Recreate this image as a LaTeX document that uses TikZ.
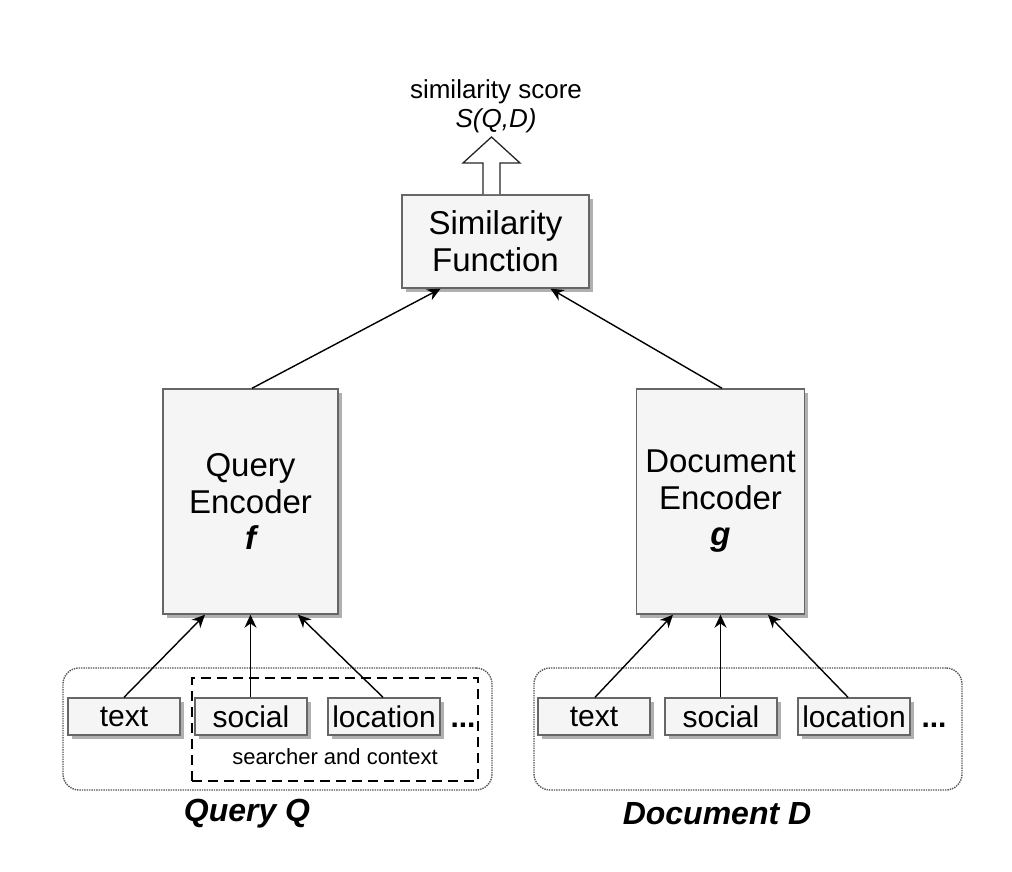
\documentclass[tikz,border=0pt]{standalone}
\usepackage{fontspec}
\setmainfont{Liberation Sans}
\usetikzlibrary{shadows,calc,arrows.meta}
\definecolor{boxfill}{HTML}{F5F5F5}
\definecolor{boxline}{HTML}{666666}
\definecolor{shadowc}{HTML}{B0B0B0}
\definecolor{grpline}{HTML}{555555}
\begin{document}
\begin{tikzpicture}[x=1pt,y=-1pt,
  box/.style={draw=boxline, fill=boxfill, line width=1.4pt, inner sep=0pt, align=center,
    drop shadow={shadow xshift=3.5pt, shadow yshift=-3.5pt, fill=shadowc, opacity=1}},
  bigtxt/.style={font=\fontsize{33}{37}\selectfont},
  smalltxt/.style={font=\fontsize{30}{34}\selectfont},
  grp/.style={draw=grpline, densely dotted, line width=1.4pt, rounded corners=16pt},
  conn/.style={line width=1.4pt, -{Stealth[length=13pt,width=12pt]}},
  lbl/.style={font=\fontsize{32}{36}\selectfont\bfseries\itshape, inner sep=0pt},
  dots/.style={font=\fontsize{30}{34}\selectfont\bfseries, inner sep=0pt, anchor=base}
]
\useasboundingbox (0,0) rectangle (1012,872);

% top labels
\node[font=\fontsize{26}{30}\selectfont, inner sep=0pt] (simscore) at (496,92) {similarity score};
\node[font=\fontsize{26}{30}\selectfont\itshape, inner sep=0pt] (sqd) at (496,121) {S(Q,D)};

% similarity function
\node[box, bigtxt, minimum width=187pt, minimum height=93pt] (sf) at (495.5,241.5) {Similarity\\Function};

% block arrow
\draw[line width=1.3pt, draw=black!85, fill=white]
  (483,194) -- (483,163) -- (463,163) -- (491.5,137) -- (520,163) -- (500,163) -- (500,194);

% encoders
\node[box, bigtxt, minimum width=175pt, minimum height=225pt] (qe) at (250.5,501.5)
  {Query\\Encoder\\[-1pt]{\bfseries\itshape f}};
\node[box, bigtxt, minimum width=168pt, minimum height=225pt] (de) at (720.5,501.5)
  {Document\\Encoder\\[-1pt]{\bfseries\itshape g}};

% groups
\node[grp, minimum width=429pt, minimum height=122pt, inner sep=0pt] (qgrp) at (277.5,729) {};
\node[grp, minimum width=428pt, minimum height=122pt, inner sep=0pt] (dgrp) at (748,729) {};

% dashed searcher/context box
\node[draw=black, dashed, dash pattern=on 10pt off 6pt, line width=2.4pt,
  minimum width=286pt, minimum height=103pt, inner sep=0pt] (ctx) at (335,729.5) {};
\node[font=\fontsize{22}{26}\selectfont, inner sep=0pt] (ctxlbl) at (335,757) {searcher and context};

% query inputs
\node[box, smalltxt, minimum width=112pt, minimum height=37pt] (qtext) at (124,716.5) {text};
\node[box, smalltxt, minimum width=112pt, minimum height=37pt] (qsoc) at (251,716.5) {social};
\node[box, smalltxt, minimum width=112pt, minimum height=37pt] (qloc) at (384,716.5) {location};
\node[dots] (qdots) at (463,727) {...};

% document inputs
\node[box, smalltxt, minimum width=112pt, minimum height=37pt] (dtext) at (594,716.5) {text};
\node[box, smalltxt, minimum width=112pt, minimum height=37pt] (dsoc) at (721,716.5) {social};
\node[box, smalltxt, minimum width=112pt, minimum height=37pt] (dloc) at (854,716.5) {location};
\node[dots] (ddots) at (934,727) {...};

% bottom labels
\node[lbl] (qlbl) at (247,814) {Query Q};
\node[lbl] (dlbl) at (717,814) {Document D};

% connectors
\draw[conn] (qtext.north) -- ($(qe.south)+(-45.5,0)$);
\draw[conn] (qsoc.north -| qe.south) -- (qe.south);
\draw[conn] ($(qloc.north)+(-1,0)$) -- ($(qe.south)+(47.5,0)$);
\draw[conn] ($(dtext.north)+(1,0)$) -- ($(de.south)+(-47.5,0)$);
\draw[conn] (dsoc.north -| de.south) -- (de.south);
\draw[conn] ($(dloc.north)+(-6,0)$) -- ($(de.south)+(47.5,0)$);
\draw[conn] ($(qe.north)+(1.5,0)$) -- ($(sf.south)+(-55,0)$);
\draw[conn] ($(de.north)+(1.5,0)$) -- ($(sf.south)+(55,0)$);
\end{tikzpicture}
\end{document}
